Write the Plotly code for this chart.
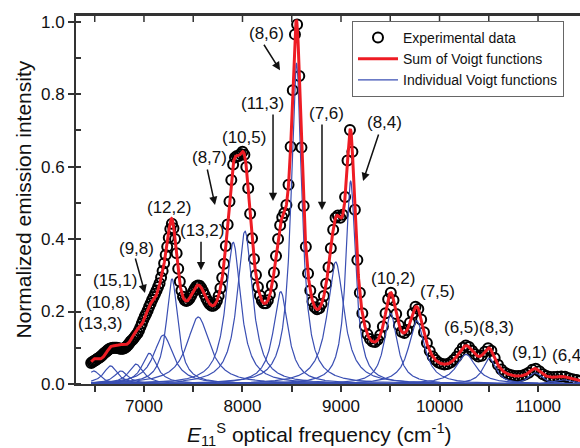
import numpy as np
import plotly.graph_objects as go

# ---- Voigt components: centre (cm-1), height, FWHM (cm-1)
peak_centres = [6490, 6661, 6766, 6919, 7054, 7196, 7285, 7551, 7906, 8025,
                8388, 8548, 8946, 9098, 9504, 9768, 10269, 10506, 10970, 11250]
peak_heights = [0.036, 0.050, 0.036, 0.055, 0.085, 0.135, 0.290, 0.185, 0.391, 0.422,
                0.255, 0.885, 0.337, 0.560, 0.195, 0.175, 0.082, 0.071, 0.031, 0.012]
peak_fwhm = [160, 170, 170, 180, 180, 240, 140, 280, 185, 185,
             180, 130, 205, 120, 160, 195, 240, 160, 160, 220]
lorentz_fraction = 1.0

# experimental spectrum: measured every 3 nm from 1547 nm down to 875 nm
wavelength_nm = list(range(1547, 874, -3))
intensity = [
    0.058, 0.061, 0.063, 0.065, 0.067, 0.070, 0.072, 0.074, 0.077, 0.080,
    0.084, 0.087, 0.090, 0.093, 0.096, 0.098, 0.099, 0.100, 0.100, 0.100,
    0.100, 0.099, 0.098, 0.097, 0.097, 0.098, 0.100, 0.103, 0.107, 0.112,
    0.117, 0.121, 0.125, 0.130, 0.135, 0.140, 0.148, 0.157, 0.167, 0.177,
    0.186, 0.194, 0.203, 0.213, 0.222, 0.232, 0.240, 0.249, 0.258, 0.268,
    0.278, 0.294, 0.312, 0.333, 0.356, 0.379, 0.404, 0.428, 0.442, 0.430,
    0.400, 0.361, 0.318, 0.283, 0.258, 0.241, 0.232, 0.229, 0.231, 0.236,
    0.244, 0.253, 0.262, 0.269, 0.272, 0.271, 0.265, 0.256, 0.246, 0.235,
    0.226, 0.220, 0.216, 0.216, 0.220, 0.229, 0.243, 0.264, 0.293, 0.332,
    0.381, 0.440, 0.504, 0.563, 0.606, 0.625, 0.629, 0.629, 0.635, 0.641,
    0.633, 0.599, 0.540, 0.470, 0.402, 0.345, 0.301, 0.268, 0.244, 0.230,
    0.223, 0.223, 0.231, 0.247, 0.272, 0.308, 0.353, 0.400, 0.438, 0.460,
    0.472, 0.494, 0.550, 0.655, 0.811, 0.965, 0.992, 0.850, 0.653, 0.491,
    0.379, 0.305, 0.258, 0.228, 0.212, 0.206, 0.209, 0.221, 0.243, 0.277,
    0.322, 0.375, 0.426, 0.459, 0.465, 0.459, 0.467, 0.516, 0.617, 0.701,
    0.641, 0.481, 0.342, 0.252, 0.195, 0.160, 0.137, 0.124, 0.117, 0.116,
    0.122, 0.135, 0.159, 0.195, 0.234, 0.252, 0.231, 0.193, 0.162, 0.144,
    0.141, 0.149, 0.169, 0.195, 0.213, 0.207, 0.178, 0.143, 0.113, 0.091,
    0.076, 0.066, 0.059, 0.056, 0.054, 0.055, 0.059, 0.066, 0.075, 0.088,
    0.100, 0.106, 0.102, 0.092, 0.082, 0.076, 0.078, 0.089, 0.099, 0.092,
    0.072, 0.053, 0.040, 0.032, 0.027, 0.024, 0.022, 0.022, 0.023, 0.026,
    0.031, 0.039, 0.042, 0.035, 0.027, 0.022, 0.019, 0.019, 0.020, 0.021,
    0.020, 0.016, 0.013, 0.011, 0.009,
]

# tick labels
x_ticks = [7000, 8000, 9000, 10000, 11000]
y_ticks = [0.0, 0.2, 0.4, 0.6, 0.8, 1.0]
x_range = [6310, 11426]
y_range = [0, 1.0185]

# chirality labels: text, x (cm-1), y (intensity)
label_text = ["(13,3)", "(10,8)", "(15,1)", "(9,8)", "(12,2)", "(13,2)", "(8,7)", "(10,5)",
              "(11,3)", "(8,6)", "(7,6)", "(8,4)", "(10,2)", "(7,5)", "(6,5)", "(8,3)", "(9,1)"]
label_x = [6554, 6635, 6706, 6929, 7254, 7589, 7670, 8016,
           8208, 8239, 8848, 9437, 9528, 9975, 10219, 10574, 10914]
label_y = [0.168, 0.226, 0.287, 0.375, 0.486, 0.425, 0.626, 0.681,
           0.775, 0.968, 0.748, 0.723, 0.290, 0.254, 0.157, 0.157, 0.086]

# arrows: head x, head y, tail offset (px)
arrow_x = [7010, 7579, 7721, 8310, 8381, 8807, 9224]
arrow_y = [0.251, 0.314, 0.494, 0.505, 0.866, 0.480, 0.560]
arrow_ax = [-10, 0, -8, 0, -17, 0, 16]
arrow_ay = [-36, -30, -37, -88, -27, -87, -48]


def voigt(x, c, h, w):
    g = w / 2.0
    d = (x - c) / g
    return h * (lorentz_fraction / (1 + d ** 2) + (1 - lorentz_fraction) * np.exp(-np.log(2) * d ** 2))


x_fine = np.arange(6464.0, 11440.0, 3.0)
components = [voigt(x_fine, c, h, w) for c, h, w in zip(peak_centres, peak_heights, peak_fwhm)]
total = np.sum(components, axis=0)

x_exp = 1e7 / np.array(wavelength_nm, dtype=float)

FONT = "Liberation Sans, Arial, sans-serif"
INK = "#111111"
AXIS = "#333333"
fig = go.Figure()

fig.add_trace(go.Scatter(x=x_exp, y=intensity, mode="markers", name="Experimental data",
                         marker=dict(symbol="circle-open", size=10, color="black",
                                     line=dict(width=2, color="black")),
                         legendrank=1))
for i, comp in enumerate(components):
    fig.add_trace(go.Scatter(x=x_fine, y=comp, mode="lines", name="Individual Voigt functions",
                             line=dict(color="#3a4fb3", width=1.2), legendgroup="ind",
                             showlegend=(i == 0), legendrank=3))
fig.add_trace(go.Scatter(x=x_fine, y=total, mode="lines", name="Sum of Voigt functions",
                         line=dict(color="#ee1c24", width=3), legendrank=2))

annotations = []
for t, x, y in zip(label_text, label_x, label_y):
    annotations.append(dict(x=x, y=y, xref="x", yref="y", text=t, showarrow=False,
                            font=dict(size=17, color=INK, family=FONT)))
annotations.append(dict(x=11122, y=0.08, xref="x", yref="y", text="(6,4)", showarrow=False,
                        xanchor="left", font=dict(size=17, color=INK, family=FONT)))
for x, y, ax, ay in zip(arrow_x, arrow_y, arrow_ax, arrow_ay):
    annotations.append(dict(x=x, y=y, xref="x", yref="y", ax=ax, ay=ay, text="",
                            showarrow=True, arrowhead=2, arrowsize=1.1, arrowwidth=1.5,
                            arrowcolor=INK))
annotations.append(dict(x=0.5, y=0, xref="paper", yref="paper", xanchor="center", yanchor="middle",
                        xshift=-9, yshift=-50,
                        text="<i>E</i><sub>11</sub><sup>S</sup> optical frequency (cm<sup>-1</sup>)",
                        showarrow=False, font=dict(size=21, color=INK, family=FONT)))
annotations.append(dict(x=0, y=0.5, xref="paper", yref="paper", xanchor="center", yanchor="middle",
                        xshift=-53, textangle=-90,
                        text="Normalized emission intensity", showarrow=False,
                        font=dict(size=21, color=INK, family=FONT)))

# top frame line (in data coordinates at the top of the y range) with inward ticks
top_tick_vals = [v + d for v in x_ticks for d in (-500, 0) if x_range[0] < v + d < x_range[1]]
shapes = [dict(type="line", xref="x", yref="y", x0=x_range[0], x1=x_range[1],
               y0=y_range[1], y1=y_range[1], line=dict(color=AXIS, width=2), layer="above")]
for v in top_tick_vals:
    shapes.append(dict(type="line", xref="x", yref="y", ysizemode="pixel", yanchor=y_range[1],
                       x0=v, x1=v, y0=0, y1=-7, line=dict(color=AXIS, width=1.5), layer="above"))

axis_common = dict(showgrid=False, zeroline=False, showline=True, linecolor=AXIS,
                   linewidth=1.8, tickcolor=AXIS, tickwidth=1.5, automargin=False)
fig.update_layout(
    width=580, height=448,
    margin=dict(l=76, r=0, t=15, b=64),
    paper_bgcolor="white", plot_bgcolor="white",
    font=dict(family=FONT, size=17, color=INK),
    showlegend=True,
    legend=dict(x=0.5476, y=0.984, xanchor="left", yanchor="top", bgcolor="white",
                bordercolor="#666", borderwidth=1, font=dict(size=14, family=FONT),
                itemwidth=40, tracegroupgap=0),
    annotations=annotations,
    shapes=shapes,
    xaxis=dict(range=x_range, tickvals=x_ticks, ticktext=[str(v) for v in x_ticks],
               ticks="outside", ticklen=6, mirror=True,
               minor=dict(dtick=500, tick0=0, ticks="outside", ticklen=6, tickcolor=AXIS),
               ticklabelstandoff=0, tickfont=dict(size=17), **axis_common),
    yaxis=dict(range=y_range, tickvals=y_ticks, tickformat=".1f", ticks="outside", ticklen=6,
               minor=dict(dtick=0.1, tick0=0, ticks="inside", ticklen=5, tickcolor=AXIS),
               tickfont=dict(size=17), **axis_common),
)

fig.write_html("out.html", config={"displayModeBar": False},
               post_script="document.body.style.margin='0px';")
